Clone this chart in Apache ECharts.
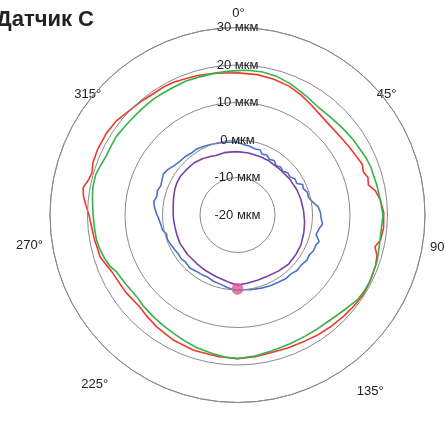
<!DOCTYPE html>
<html>
<head>
<meta charset="utf-8">
<script src="https://cdn.jsdelivr.net/npm/echarts@6/dist/echarts.min.js"></script>
<style>
  html, body { margin: 0; padding: 0; background: #fff; }
  #chart { width: 445px; height: 426px; }
</style>
</head>
<body>
<div id="chart"></div>
<script>
// Radial ticks (мкм) and angular ticks (degrees)
const radiusTicks = [-20, -10, 0, 10, 20, 30];
const angleTicks = [0, 45, 90, 135, 180, 225, 270, 315];

// Red trace
const redAngles = [0, 8, 15, 22, 28, 34, 40, 46, 52, 58, 63, 68, 71, 74, 77, 80, 84, 89, 95, 100,
  103, 106, 110, 116, 122, 128, 134, 140, 146, 152, 159, 166, 173, 180, 188, 198, 207, 216, 222, 227,
  235, 241, 246, 250, 253, 257, 260, 265, 270, 274, 277, 280, 283, 286, 290, 295, 302, 308, 314, 320,
  325, 330, 334, 338, 344, 350, 355];
const redValues = [17.9, 17.8, 17.5, 17.0, 16.2, 15.3, 14.6, 14.3, 14.4, 14.8, 15.3, 15.9, 15.5, 16.2, 15.8, 17.3, 18.3, 19.0, 19.1, 18.7,
  17.6, 18.7, 19.2, 19.5, 19.7, 19.4, 19.1, 18.8, 18.5, 18.1, 17.9, 17.8, 18.1, 18.3, 18.1, 17.9, 17.5, 16.8, 16.2, 15.8,
  16.2, 16.4, 16.8, 17.6, 18.3, 18.4, 18.7, 19.0, 19.6, 20.6, 21.4, 21.8, 20.9, 20.4, 21.0, 21.2, 21.2, 20.9, 20.1, 19.7,
  19.4, 19.4, 19.3, 19.0, 18.7, 18.3, 18.0];

// Green trace
const greenAngles = [0, 4, 10, 16, 22, 27, 32, 37, 44, 51, 57, 62, 66, 70, 74, 78, 84, 90, 97, 102,
  108, 113, 117, 121, 125, 131, 138, 145, 151, 158, 166, 173, 180, 185, 190, 197, 203, 208, 214, 220,
  226, 231, 238, 242, 245, 248, 252, 256, 260, 265, 270, 276, 281, 286, 290, 294, 299, 303, 308, 313,
  318, 324, 329, 333, 339, 345, 351, 356];
const greenValues = [18.5, 18.7, 18.7, 18.4, 17.7, 17.0, 16.4, 15.9, 16.0, 16.4, 16.8, 17.1, 17.5, 17.8, 17.8, 18.0, 18.3, 18.8, 18.5, 18.7,
  19.2, 19.3, 19.5, 19.4, 19.2, 18.2, 17.4, 17.1, 17.0, 17.1, 17.4, 17.9, 18.3, 18.0, 17.6, 17.0, 16.4, 15.9, 15.5, 15.2,
  14.9, 14.6, 15.0, 15.3, 15.7, 16.6, 17.3, 17.8, 18.2, 18.3, 18.5, 18.9, 19.3, 19.3, 18.8, 18.4, 18.4, 18.5, 18.2, 18.1,
  18.1, 18.2, 18.1, 18.1, 18.3, 18.2, 18.3, 18.4];

// Blue trace
const blueAngles = [0, 5, 10, 15, 19, 22, 26, 30, 34, 38, 42, 46, 50, 54, 58, 62, 65, 68, 72, 76,
  80, 84, 88, 92, 96, 100, 104, 108, 111, 115, 119, 123, 128, 133, 138, 143, 148, 155, 162, 170,
  176, 182, 188, 194, 200, 205, 210, 216, 222, 228, 232, 237, 242, 247, 251, 255, 259, 263, 267, 271,
  275, 279, 283, 287, 291, 295, 299, 303, 308, 313, 318, 323, 328, 334, 340, 346, 352, 356];
const blueValues = [-0.6, -1.1, -1.4, -1.8, -1.6, -2.5, -2.2, -2.9, -2.5, -3.3, -2.8, -3.2, -2.5, -2.7, -1.9, -2.1, -0.8, -1.1, -0.4, -0.5,
  0.3, 1.6, 2.1, 2.3, 2.8, 2.0, 1.6, 2.9, 2.4, 2.4, 1.9, 2.1, 1.6, 1.7, 1.2, 1.3, 1.0, 0.8, 0.5, 0.2,
  0.0, 0.1, -0.5, -1.0, -1.2, -1.6, -1.5, -1.4, -1.0, -1.3, -1.0, -1.1, -0.8, -0.5, -0.2, -0.4, 0.4, 0.6, 1.0, 1.6,
  2.2, 2.6, 2.1, 2.3, 1.9, 2.2, 2.6, 2.2, 1.4, 1.0, 0.9, 0.6, 0.7, 0.4, 0.1, -0.2, -0.4, -0.5];

// Purple trace
const purpleAngles = [0, 10, 21, 30, 43, 55, 67, 76, 86, 96, 105, 115, 124, 134, 144, 154, 163, 172, 180, 186,
  192, 199, 210, 220, 232, 244, 252, 259, 266, 273, 280, 286, 293, 298, 304, 312, 320, 328, 335, 340,
  348, 355];
const purpleValues = [-3.1, -3.2, -3.3, -3.3, -3.4, -3.1, -2.8, -2.6, -2.35, -2.0, -1.7, -1.3, -1.2, -1.1, -1.5, -1.8, -1.8, -1.6, -1.3, -1.8,
  -2.3, -2.6, -2.9, -3.1, -3.0, -2.9, -3.0, -3.0, -2.9, -2.8, -2.6, -2.3, -1.9, -1.7, -1.6, -1.8, -1.9, -2.3, -2.8, -3.1,
  -3.0, -3.1];

// Reference point marker
const markerAngle = 180;
const markerValue = -0.3;

// [radius, angle] pairs, closed back onto the first point
function closedLoop(angles, values) {
  const pts = angles.map((a, i) => [values[i], a]);
  pts.push([values[0], 360]);
  return pts;
}

const FONT = "'Liberation Sans', Arial, Helvetica, sans-serif";
const GRID = '#8a8a8a';

// Per-label nudges of the angular tick labels
const angleRich = {
  a0:   { padding: [0, 0, 0, 2] },
  a45:  { padding: [0, 0, -35, 1] },
  a90:  { padding: [64, 0, 0, -3] },
  a135: { padding: [32, 0, 0, -19] },
  a225: { padding: [25, -9, 0, 0] },
  a270: { padding: [60, -1, 0, 0] },
  a315: { padding: [0, -2, -35, 0] }
};
Object.keys(angleRich).forEach(k => {
  angleRich[k].fontSize = 13;
  angleRich[k].color = '#222';
  angleRich[k].fontFamily = FONT;
});

const chart = echarts.init(document.getElementById('chart'), null, { renderer: 'canvas' });

const lineSeries = (name, color, angles, values) => ({
  name: name,
  type: 'line',
  coordinateSystem: 'polar',
  data: closedLoop(angles, values),
  showSymbol: false,
  symbol: 'none',
  smooth: false,
  lineStyle: { color: color, width: 1.6 },
  silent: true,
  animation: false
});

chart.setOption({
  animation: false,
  backgroundColor: '#fff',
  textStyle: { fontFamily: FONT },
  title: {
    text: 'Датчик С',
    left: -4,
    top: 9,
    padding: 0,
    textStyle: { fontFamily: FONT, fontSize: 22, fontWeight: 'bold', color: '#222' }
  },
  polar: {
    center: [237.5, 215],
    radius: 187.5
  },
  angleAxis: {
    type: 'value',
    min: 0,
    max: 360,
    interval: 45,
    startAngle: 90,
    clockwise: true,
    axisLine: { show: true, lineStyle: { color: GRID, width: 1 } },
    axisTick: { show: false },
    splitLine: { show: false },
    axisLabel: {
      margin: 8,
      fontSize: 13,
      color: '#222',
      fontFamily: FONT,
      formatter: function (v) {
        if (v === 180 || v === 360) return '';
        if (angleTicks.indexOf(v) < 0) return '';
        return '{a' + v + '|' + v + '°}';
      },
      rich: angleRich
    }
  },
  radiusAxis: {
    type: 'value',
    min: radiusTicks[0],
    max: radiusTicks[radiusTicks.length - 1],
    interval: 10,
    axisLine: { show: false },
    axisTick: { show: false },
    splitLine: { show: true, lineStyle: { color: GRID, width: 1 } },
    axisLabel: {
      showMinLabel: true,
      showMaxLabel: true,
      margin: 0,
      align: 'center',
      verticalAlign: 'middle',
      fontSize: 13,
      color: '#222',
      fontFamily: FONT,
      formatter: v => v + ' мкм'
    },
    z: 10
  },
  series: [
    lineSeries('red', '#ef3b2c', redAngles, redValues),
    lineSeries('green', '#35b34a', greenAngles, greenValues),
    lineSeries('blue', '#4a73c8', blueAngles, blueValues),
    lineSeries('purple', '#7b3fa6', purpleAngles, purpleValues),
    {
      name: 'marker',
      type: 'scatter',
      coordinateSystem: 'polar',
      data: [[markerValue, markerAngle]],
      symbol: 'circle',
      symbolSize: 12,
      itemStyle: { color: '#e5549c' },
      silent: true,
      animation: false,
      z: 5
    }
  ]
});
</script>
</body>
</html>
